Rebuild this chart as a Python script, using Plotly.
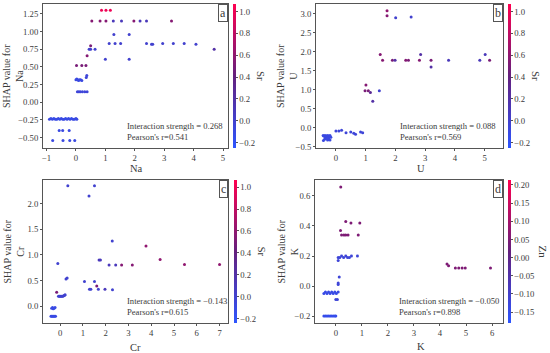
import plotly.graph_objects as go

# ---------------- data ----------------
# Panel a: Na feature, SHAP value, Sr interaction value
na_x = [-0.9, -0.85, -0.8, -0.75, -0.7, -0.65, -0.6, -0.55, -0.5, -0.45, -0.4, -0.35, -0.3, -0.25, -0.2, -0.15, -0.1, -0.05, 0.0, 0.03,
        -0.57, -0.45, -0.23,
        -0.79, -0.44, -0.21, -0.04,
        0.05, 0.1, 0.15, 0.22, 0.3, 0.38,
        0.0, 0.03, 0.06, 0.09, 0.12, 0.16, 0.2, 0.35, 0.37,
        0.02, 0.2, 0.34,
        0.38,
        0.45, 0.5, 0.65, 0.5,
        1.0, 1.81,
        1.13, 1.33, 1.52, 2.4, 2.57, 2.61, 2.95, 3.31, 3.68, 4.08,
        1.29, 1.81,
        0.54, 0.82, 1.02, 1.27, 1.55, 1.97, 2.18, 2.4, 3.25,
        0.87, 1.02, 1.17,
        4.7]
na_y = [-0.24, -0.23, -0.24, -0.23, -0.24, -0.24, -0.23, -0.24, -0.23, -0.24, -0.24, -0.23, -0.24, -0.23, -0.24, -0.23, -0.24, -0.24, -0.23, -0.24,
        -0.40, -0.40, -0.40,
        -0.54, -0.54, -0.54, -0.54,
        0.15, 0.15, 0.15, 0.15, 0.15, 0.15,
        0.32, 0.33, 0.32, 0.31, 0.32, 0.32, 0.31, 0.35, 0.38,
        0.52, 0.52, 0.52,
        0.66,
        0.75, 0.75, 0.75, 0.80,
        0.61, 0.61,
        0.83, 0.83, 0.83, 0.83, 0.82, 0.82, 0.83, 0.83, 0.83, 0.82,
        0.96, 0.96,
        1.15, 1.15, 1.15, 1.15, 1.15, 1.15, 1.15, 1.15, 1.15,
        1.30, 1.30, 1.30,
        0.75]
na_c = [-0.1, -0.12, -0.1, -0.15, -0.1, -0.12, -0.1, -0.15, -0.1, -0.12, -0.1, -0.15, -0.1, -0.12, -0.1, -0.15, -0.1, -0.12, -0.1, -0.1,
        -0.1, -0.1, -0.1,
        -0.1, -0.1, -0.1, -0.1,
        -0.05, -0.05, -0.05, -0.05, -0.05, -0.05,
        -0.1, -0.1, -0.1, -0.1, -0.1, -0.1, -0.1, -0.05, -0.05,
        0.5, 0.5, 0.5,
        0.55,
        0.0, 0.0, 0.0, 0.5,
        0.0, 0.0,
        0.0, 0.0, 0.0, 0.0, 0.0, 0.0, 0.0, 0.0, 0.0, 0.0,
        0.0, 0.0,
        0.55, 0.55, 0.55, 0.1, 0.1, 0.55, 0.1, 0.1, 0.55,
        1.0, 1.0, 1.0,
        0.2]

# Panel b: U feature, SHAP value, Sr
u_x = [-0.43, -0.4, -0.37, -0.35, -0.32, -0.3, -0.27, -0.25, -0.22, -0.2, -0.17, -0.42, -0.38, -0.33, -0.28, -0.24, -0.2,
       0.0, 0.1, 0.19, 0.34, 0.5, 0.6, 0.66, 0.83, 0.9,
       1.01, 0.98, 1.09, 1.16, 1.46, 1.24,
       1.49, 1.57,
       1.9, 1.99, 2.35, 2.44, 2.81, 3.2, 3.79, 4.84, 5.17,
       2.85, 5.02, 3.2,
       1.72, 1.72, 2.01, 2.53]
u_y = [-0.2, -0.22, -0.2, -0.25, -0.21, -0.23, -0.2, -0.27, -0.22, -0.2, -0.25, -0.33, -0.3, -0.28, -0.32, -0.3, -0.32,
       -0.08, -0.08, -0.06, -0.13, -0.11, -0.14, -0.17, -0.11, -0.13,
       1.13, 0.98, 0.98, 0.93, 0.98, 0.70,
       1.93, 1.78,
       1.78, 1.78, 1.78, 1.78, 1.78, 1.78, 1.78, 1.78, 1.78,
       1.93, 1.93, 1.60,
       3.08, 2.95, 2.90, 2.92]
u_c = [-0.1, -0.1, -0.1, -0.1, -0.1, -0.1, -0.1, -0.1, -0.1, -0.1, -0.1, -0.1, -0.1, -0.1, -0.1, -0.1, -0.1,
       -0.05, -0.05, -0.05, -0.05, -0.05, -0.05, -0.05, -0.05, -0.05,
       0.55, 0.5, 0.5, 0.3, 0.0, 0.2,
       0.55, 0.55,
       0.5, 0.2, 0.55, 0.5, 0.55, 0.5, 0.1, 0.1, 0.5,
       0.2, 0.1, 0.2,
       0.6, 0.55, 0.0, 0.0]

# Panel c: Cr feature, SHAP value, Sr
cr_x = [0.34, 1.51, 1.27, 2.29, 3.77, -0.1, 1.71, 1.77, 2.15, 2.44, 2.7, 3.17,
        0.26, 0.31, 1.07, 1.51, 1.61, 1.29, 1.35, 1.68, 1.97, 2.3, -0.15,
        -0.07, -0.03, 0.0, 0.04, 0.08, 0.12, 0.16, 0.2, 0.22,
        -0.37, -0.33, -0.3, -0.26, -0.22, -0.4, -0.36, -0.32, -0.28, -0.24, -0.2,
        4.39, 5.46, 7.0]
cr_y = [2.35, 2.35, 2.15, 1.27, 1.17, 0.83, 0.9, 0.9, 0.8, 0.8, 0.8, 0.8,
        0.53, 0.55, 0.48, 0.48, 0.39, 0.33, 0.33, 0.33, 0.33, 0.32, 0.27,
        0.19, 0.19, 0.19, 0.19, 0.19, 0.19, 0.2, 0.21, 0.22,
        -0.04, -0.03, -0.05, -0.04, -0.03, -0.2, -0.2, -0.2, -0.2, -0.2, -0.2,
        0.91, 0.81, 0.81]
cr_c = [0.0, 0.0, 0.0, 0.0, 0.6, 0.0, 0.1, 0.1, 0.1, 0.1, 0.55, 0.55,
        0.0, 0.0, 0.0, 0.0, 0.5, 0.0, 0.0, 0.0, 0.1, 0.0, 0.5,
        0.0, 0.0, 0.0, 0.0, 0.0, 0.0, 0.0, 0.0, 0.0,
        -0.1, -0.1, -0.1, -0.1, -0.1, -0.1, -0.1, -0.1, -0.1, -0.1, -0.1,
        0.6, 0.6, 0.6]

# Panel d: K feature, SHAP value, Zn
k_x = [0.19, 0.38, 0.58, 0.92, 0.18, 0.22, 0.31, 0.38, 0.47, 0.86,
       0.09, 0.15, 0.22, 0.3, 0.38, 0.45, 0.52, 0.6, 0.83, 0.09,
       0.13, 0.09, 0.09,
       -0.46, -0.4, -0.34, -0.28, -0.22, -0.16, -0.1, -0.04, 0.02, 0.09,
       0.0, 0.06,
       -0.46, -0.4, -0.34, -0.28, -0.22, -0.16, -0.1, -0.04, 0.0,
       4.27, 4.33, 4.59, 4.72, 4.85, 4.97, 5.94]
k_y = [0.66, 0.43, 0.42, 0.42, 0.37, 0.34, 0.34, 0.34, 0.34, 0.34,
       0.19, 0.19, 0.2, 0.19, 0.2, 0.19, 0.19, 0.2, 0.2, 0.17,
       0.06, 0.02, 0.01,
       -0.05, -0.04, -0.05, -0.04, -0.05, -0.04, -0.05, -0.04, -0.05, -0.04,
       -0.09, -0.09,
       -0.2, -0.2, -0.2, -0.2, -0.2, -0.2, -0.2, -0.2, -0.2,
       0.146, 0.135, 0.12, 0.12, 0.12, 0.12, 0.12]
k_c = [0.05, 0.05, 0.05, 0.05, 0.05, 0.05, 0.05, 0.05, 0.05, 0.05,
       -0.12, -0.12, -0.12, -0.12, -0.12, -0.12, -0.12, -0.12, -0.12, -0.12,
       -0.12, -0.12, -0.12,
       -0.14, -0.14, -0.14, -0.14, -0.14, -0.14, -0.14, -0.14, -0.14, -0.14,
       -0.12, -0.12,
       -0.15, -0.15, -0.15, -0.15, -0.15, -0.15, -0.15, -0.15, -0.15,
       0.05, 0.05, 0.05, 0.05, 0.05, 0.05, 0.05]

features = ["Na", "U", "Cr", "K"]
color_names = ["Sr", "Sr", "Sr", "Zn"]
panel_letters = ["a", "b", "c", "d"]
interaction = ["0.268", "0.088", "\u22120.143", "\u22120.050"]
pearson = ["0.541", "0.569", "0.615", "0.898"]

# ---------------- layout helpers ----------------
W, H = 550, 353
FONT = "Liberation Serif, Times New Roman, serif"
cscale = [[0.0, "rgb(45,85,255)"], [0.5, "rgb(100,32,125)"], [1.0, "rgb(255,0,80)"]]

# pixel boxes (left, right, top, bottom)
boxes = [(43, 228, 4, 148), (316, 503, 4, 148), (43, 228, 180, 323), (315, 503, 180, 323)]
xranges = [[-1.12, 5.17], [-0.67, 5.62], [-0.75, 7.37], [-0.8, 6.42]]
yranges = [[-0.646, 1.39], [-0.53, 3.26], [-0.33, 2.46], [-0.246, 0.706]]
ytickvals = [[-0.5, -0.25, 0.0, 0.25, 0.5, 0.75, 1.0, 1.25],
             [-0.5, 0.0, 0.5, 1.0, 1.5, 2.0, 2.5, 3.0],
             [0.0, 0.5, 1.0, 1.5, 2.0],
             [-0.2, 0.0, 0.2, 0.4, 0.6]]
yfmt = [".2f", ".1f", ".1f", ".1f"]
xtickvals = [[-1, 0, 1, 2, 3, 4, 5], [0, 1, 2, 3, 4, 5], [0, 1, 2, 3, 4, 5, 6, 7], [0, 1, 2, 3, 4, 5, 6]]
crange = [[-0.25, 1.07], [-0.25, 1.07], [-0.238, 1.064], [-0.18, 0.2137]]
ctick = [[-0.2, 0.0, 0.2, 0.4, 0.6, 0.8, 1.0], [-0.2, 0.0, 0.2, 0.4, 0.6, 0.8, 1.0],
         [-0.2, 0.0, 0.2, 0.4, 0.6, 0.8, 1.0], [-0.15, -0.1, -0.05, 0.0, 0.05, 0.1, 0.15, 0.2]]
cfmt = [".1f", ".1f", ".1f", ".2f"]
cbar_x = [233, 508, 234, 508]
ctitle_x = [261, 536, 262, 543]
xtitle_pos = [(136, 168), (421, 168), (135, 347), (421, 346)]
ytitle_x = [13, 287, 13, 287]

xs = [na_x, u_x, cr_x, k_x]
ys = [na_y, u_y, cr_y, k_y]
cs = [na_c, u_c, cr_c, k_c]

fig = go.Figure()
layout = dict(width=W, height=H, margin=dict(l=0, r=0, t=0, b=0, autoexpand=False),
              paper_bgcolor="white", plot_bgcolor="white", showlegend=False,
              font=dict(family=FONT, size=10, color="#333"))
annotations = []
TXT = "#3a3a3a"

for i in range(4):
    l, r, t, b = boxes[i]
    sfx = "" if i == 0 else str(i + 1)
    fig.add_trace(go.Scatter(
        x=xs[i], y=ys[i], mode="markers", xaxis="x" + sfx, yaxis="y" + sfx,
        marker=dict(size=3, color=cs[i], coloraxis="coloraxis" + sfx, line=dict(width=0)),
        hoverinfo="skip"))
    axcommon = dict(showgrid=False, zeroline=False, showline=True, mirror=True,
                    linecolor="#555", linewidth=1, ticks="outside", ticklen=2,
                    tickcolor="#555", tickfont=dict(family=FONT, size=8.7, color=TXT))
    layout["xaxis" + sfx] = dict(axcommon, domain=[l / W, r / W], anchor="y" + sfx,
                                 range=xranges[i], tickvals=xtickvals[i])
    layout["yaxis" + sfx] = dict(axcommon, domain=[1 - b / H, 1 - t / H], anchor="x" + sfx,
                                 range=yranges[i], tickvals=ytickvals[i], tickformat=yfmt[i])
    layout["coloraxis" + sfx] = dict(
        colorscale=cscale, cmin=crange[i][0], cmax=crange[i][1],
        colorbar=dict(x=cbar_x[i] / W, xanchor="left", xpad=0, ypad=0,
                      y=1 - (t + b) / 2 / H, yanchor="middle", len=b - t, lenmode="pixels",
                      thickness=3, outlinewidth=0, ticks="outside", ticklen=2, tickcolor="#555",
                      tickvals=ctick[i], tickformat=cfmt[i],
                      tickfont=dict(family=FONT, size=8.7, color=TXT)))
    # x-axis title
    annotations.append(dict(xref="paper", yref="paper", x=xtitle_pos[i][0] / W, y=1 - xtitle_pos[i][1] / H,
                            xanchor="center", yanchor="middle", text=features[i], showarrow=False,
                            font=dict(family=FONT, size=10.5, color=TXT)))
    # y-axis title
    annotations.append(dict(xref="paper", yref="paper", x=ytitle_x[i] / W, y=1 - (t + b) / 2 / H,
                            xanchor="center", yanchor="middle", text="SHAP value for<br>" + features[i],
                            textangle=-90, showarrow=False,
                            font=dict(family=FONT, size=10, color=TXT)))
    # colorbar title, rotated
    annotations.append(dict(xref="paper", yref="paper", x=ctitle_x[i] / W, y=1 - (t + b) / 2 / H,
                            xanchor="center", yanchor="middle", text=color_names[i], textangle=90,
                            showarrow=False, font=dict(family=FONT, size=11, color=TXT)))
    # panel letter
    annotations.append(dict(xref="paper", yref="paper", x=r / W, y=1 - t / H, xanchor="right", yanchor="top",
                            text=panel_letters[i], showarrow=False, font=dict(family=FONT, size=12, color=TXT),
                            bordercolor="#555", borderwidth=1, borderpad=1, bgcolor="white"))
    # statistics text
    annotations.append(dict(xref="paper", yref="paper", x=(l + 82) / W, y=1 - (b - 17) / H,
                            xanchor="left", yanchor="middle", align="left", showarrow=False,
                            text="Interaction strength = " + interaction[i] + "<br>Pearson's r=" + pearson[i],
                            font=dict(family=FONT, size=8.6, color=TXT)))

layout["annotations"] = annotations
fig.update_layout(**layout)
fig.write_html("out.html", config={"displayModeBar": False},
               post_script="document.body.style.margin='0';document.body.style.padding='0';")
